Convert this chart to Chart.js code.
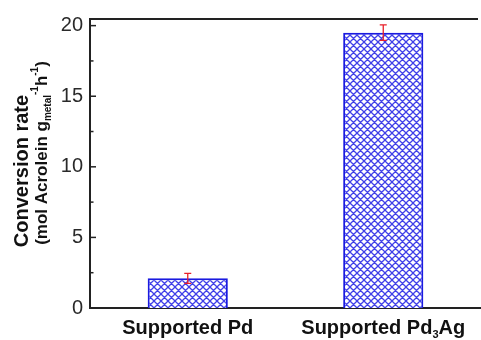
<!DOCTYPE html>
<html><head><meta charset="utf-8">
<script src="https://cdn.jsdelivr.net/npm/chart.js@4.4.0/dist/chart.umd.min.js"></script>
<style>html,body{margin:0;padding:0;background:#fff}#wrap{width:481px;height:340px}</style>
</head><body><div id="wrap"><canvas id="c" width="481" height="340"></canvas></div>
<script>
const categories = ["Supported Pd", "Supported Pd3Ag"];
const labelMain = ["Supported Pd", "Supported Pd"];
const labelSub = ["", "3"];
const labelTail = ["", "Ag"];
const rates = [2.1, 19.5];
const errors = [0.35, 0.55];
const yTicks = [0, 5, 10, 15, 20];
const yMinorTicks = [2.5, 7.5, 12.5, 17.5];

function hatch() {
  const p = document.createElement('canvas');
  const s = 7;
  p.width = s; p.height = s;
  const g = p.getContext('2d');
  g.fillStyle = '#ffffff'; g.fillRect(0,0,s,s);
  g.strokeStyle = '#4040e8'; g.lineWidth = 1.3;
  g.beginPath();
  g.moveTo(0,0); g.lineTo(s,s);
  g.moveTo(-1,s-1); g.lineTo(1,s+1);
  g.moveTo(s-1,-1); g.lineTo(s+1,1);
  g.moveTo(s,0); g.lineTo(0,s);
  g.moveTo(-1,1); g.lineTo(1,-1);
  g.moveTo(s-1,s+1); g.lineTo(s+1,s-1);
  g.stroke();
  return g.createPattern(p,'repeat');
}
const ctx0 = document.getElementById('c').getContext('2d');
const FAM = '"Liberation Sans", Arial, sans-serif';

const deco = {
  id: 'deco',
  afterDraw(chart) {
    const c = chart.ctx, a = chart.chartArea;
    const x = chart.scales.x, y = chart.scales.y;
    c.save();
    c.strokeStyle = '#222'; c.lineWidth = 2;
    c.beginPath(); c.moveTo(a.left-1, a.top); c.lineTo(478, a.top); c.stroke();
    c.lineWidth = 1.5;
    yTicks.forEach(v => { const py = y.getPixelForValue(v); c.beginPath(); c.moveTo(a.left, py); c.lineTo(a.left+6, py); c.stroke(); });
    yMinorTicks.forEach(v => { const py = y.getPixelForValue(v); c.beginPath(); c.moveTo(a.left, py); c.lineTo(a.left+3.5, py); c.stroke(); });
    c.strokeStyle = '#e8202a'; c.lineWidth = 1.3;
    rates.forEach((v,i) => {
      const px = x.getPixelForValue(i);
      const t = y.getPixelForValue(v+errors[i]), b = y.getPixelForValue(v-errors[i]);
      c.beginPath();
      c.moveTo(px, t); c.lineTo(px, b);
      c.moveTo(px-3.5, t); c.lineTo(px+3.5, t);
      c.moveTo(px-3.5, b); c.lineTo(px+3.5, b);
      c.stroke();
    });
    c.fillStyle = '#111'; c.textBaseline = 'alphabetic';
    categories.forEach((cat,i) => {
      const px = x.getPixelForValue(i);
      const fMain = 'bold 20px ' + FAM;
      const fSub = 'bold 11px ' + FAM;
      c.font = fMain; const w1 = c.measureText(labelMain[i]).width;
      const w3 = c.measureText(labelTail[i]).width;
      c.font = fSub; const w2 = labelSub[i] ? c.measureText(labelSub[i]).width : 0;
      let sx = px - (w1+w2+w3)/2; const by = 334;
      c.textAlign = 'left';
      c.font = fMain; c.fillText(labelMain[i], sx, by); sx += w1;
      if (labelSub[i]) { c.font = fSub; c.fillText(labelSub[i], sx, by+4); sx += w2; }
      c.font = fMain; c.fillText(labelTail[i], sx, by);
    });
    c.save();
    c.translate(28, 171);
    c.rotate(-Math.PI/2);
    c.textAlign = 'center';
    c.font = 'bold 20px ' + FAM;
    c.fillText('Conversion rate', 0, 0);
    c.restore();
    c.save();
    c.translate(47, 153);
    c.rotate(-Math.PI/2);
    const parts = [
      ['(mol Acrolein g', 'bold 17px ' + FAM, 0],
      ['metal', 'bold 10px ' + FAM, 4],
      ['-1', 'bold 10px ' + FAM, -9],
      ['h', 'bold 17px ' + FAM, 0],
      ['-1', 'bold 10px ' + FAM, -9],
      [')', 'bold 17px ' + FAM, 0]
    ];
    let tw = 0; parts.forEach(p => { c.font = p[1]; tw += c.measureText(p[0]).width; });
    let sx = -tw/2; c.textAlign = 'left';
    parts.forEach(p => { c.font = p[1]; c.fillText(p[0], sx, p[2]); sx += c.measureText(p[0]).width; });
    c.restore();
    c.restore();
  }
};

new Chart(ctx0, {
  type: 'bar',
  data: {
    labels: categories,
    datasets: [{
      data: rates,
      backgroundColor: hatch(),
      borderColor: '#1a1ae0',
      borderWidth: 2,
      borderSkipped: 'bottom',
      barPercentage: 0.82,
      categoryPercentage: 0.5
    }]
  },
  plugins: [deco],
  options: {
    responsive: false,
    animation: false,
    layout: { padding: { top: 15, right: -2, left: 0, bottom: 0 } },
    plugins: { legend: { display: false }, tooltip: { enabled: false } },
    scales: {
      x: {
        grid: { display: false, drawTicks: false },
        border: { display: true, color: '#222', width: 2 },
        ticks: { display: false },
        afterFit(s) { s.height = 32; }
      },
      y: {
        min: 0, max: 20.47,
        grid: { display: false, drawTicks: false },
        border: { display: true, color: '#222', width: 2 },
        afterBuildTicks(s) { s.ticks = yTicks.map(v => ({ value: v })); },
        ticks: { color: '#2a2a2a', padding: 7, font: { size: 20, family: FAM } },
        afterFit(s) { s.width = 90; }
      }
    }
  }
});
</script>
</body></html>
